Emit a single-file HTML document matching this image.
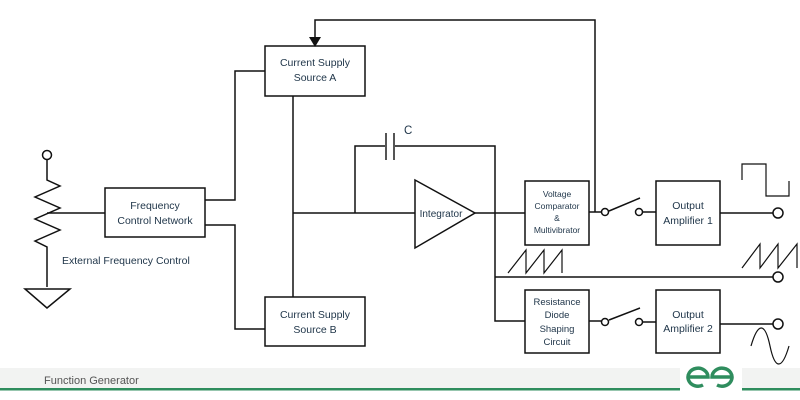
<!DOCTYPE html>
<html><head><style>
body{margin:0;width:800px;height:400px;background:#fff;overflow:hidden;font-family:"Liberation Sans",sans-serif}
svg{position:absolute;left:0;top:0}
</style></head><body>
<svg width="800" height="400" viewBox="0 0 800 400" font-family="Liberation Sans, sans-serif" font-size="10.5" fill="none">
<rect x="0" y="368" width="800" height="20" fill="#f2f3f2"/>
<rect x="0" y="388" width="800" height="2.5" fill="#2f8d5e"/>
<rect x="680" y="365" width="62" height="30" fill="#fff"/>
<text x="44" y="384" fill="#555" font-size="11">Function Generator</text>
<g stroke="#2f8d5e" stroke-width="3.5" fill="none">
<path d="M688 377 H708 A10 9 0 1 0 703 385"/>
<path d="M732 377 H712 A10 9 0 1 1 717 385"/>
</g>
<g stroke="#111" stroke-width="1.5">
<path d="M595 212 V20 H315 V42"/>
<rect x="265" y="46" width="100" height="50"/>
<rect x="265" y="297" width="100" height="49"/>
<rect x="105" y="188" width="100" height="49"/>
<rect x="525" y="181" width="64" height="64"/>
<rect x="525" y="290" width="64" height="63"/>
<rect x="656" y="181" width="64" height="64"/>
<rect x="656" y="290" width="64" height="63"/>
<path d="M205 200 H235 V71 H265"/>
<path d="M205 225 H235 V329 H265"/>
<path d="M293 96 V297"/>
<path d="M293 213 H415"/>
<path d="M355 213 V146 H386 M394 146 H495 V321 H525"/>
<path d="M386 133 V160 M394 133 V160" stroke-width="2" stroke="#555"/>
<path d="M415 180 L475 213 L415 248 Z"/>
<path d="M475 213 H525"/>
<path d="M589 212 H601 M609 211 L640 198 M643 212 H656"/>
<path d="M589 321 H601 M609 320 L640 308 M643 322 H656"/>
<path d="M720 213 H773 M495 277 H773 M720 324 H773"/>
<circle cx="605" cy="212" r="3.5" fill="#fff"/><circle cx="639" cy="212" r="3.5" fill="#fff"/>
<circle cx="605" cy="322" r="3.5" fill="#fff"/><circle cx="639" cy="322" r="3.5" fill="#fff"/>
<circle cx="778" cy="213" r="5" fill="#fff"/><circle cx="778" cy="277" r="5" fill="#fff"/><circle cx="778" cy="324" r="5" fill="#fff"/>
<path d="M742 180 V164 H766 V196 H789 V181" stroke-width="1.2"/>
<path d="M508 273 L526 250 V273 L544 250 V273 L562 250 V273" stroke-width="1.2"/>
<path d="M742 268 L760 244 V268 L778 244 V268 L797 244 V268" stroke-width="1.2"/>
<path d="M751 346 C758 322 765 322 770 346 C775 370 782 370 789 346" stroke-width="1.2"/>
<circle cx="47" cy="155" r="4.5" fill="#fff"/>
<path d="M47 160 V180 L60 186 L35 197 L60 208 L35 219 L60 230 L35 241 L47 247 V287" stroke-width="1.5"/>
<path d="M47 213 H105"/>
<path d="M25 289 H70 L47 308 Z"/>
</g>
<path d="M315 47 L309 37 L321 37 Z" fill="#111"/>
<g fill="#1e3448" text-anchor="middle">
<text x="315" y="66">Current Supply</text><text x="315" y="81">Source A</text>
<text x="315" y="318">Current Supply</text><text x="315" y="333">Source B</text>
<text x="155" y="209">Frequency</text><text x="155" y="224">Control Network</text>
<text x="441" y="217" font-size="10">Integrator</text>
<g font-size="8.5"><text x="557" y="197">Voltage</text><text x="557" y="209">Comparator</text><text x="557" y="221">&amp;</text><text x="557" y="233">Multivibrator</text></g>
<g font-size="9.5"><text x="557" y="305">Resistance</text><text x="557" y="318">Diode</text><text x="557" y="332">Shaping</text><text x="557" y="345">Circuit</text></g>
<text x="688" y="209">Output</text><text x="688" y="224">Amplifier 1</text>
<text x="688" y="318">Output</text><text x="688" y="332">Amplifier 2</text>
<text x="404" y="134" font-size="11.5" text-anchor="start">C</text>
<text x="62" y="264" text-anchor="start">External Frequency Control</text>
</g>
</svg>
</body></html>
